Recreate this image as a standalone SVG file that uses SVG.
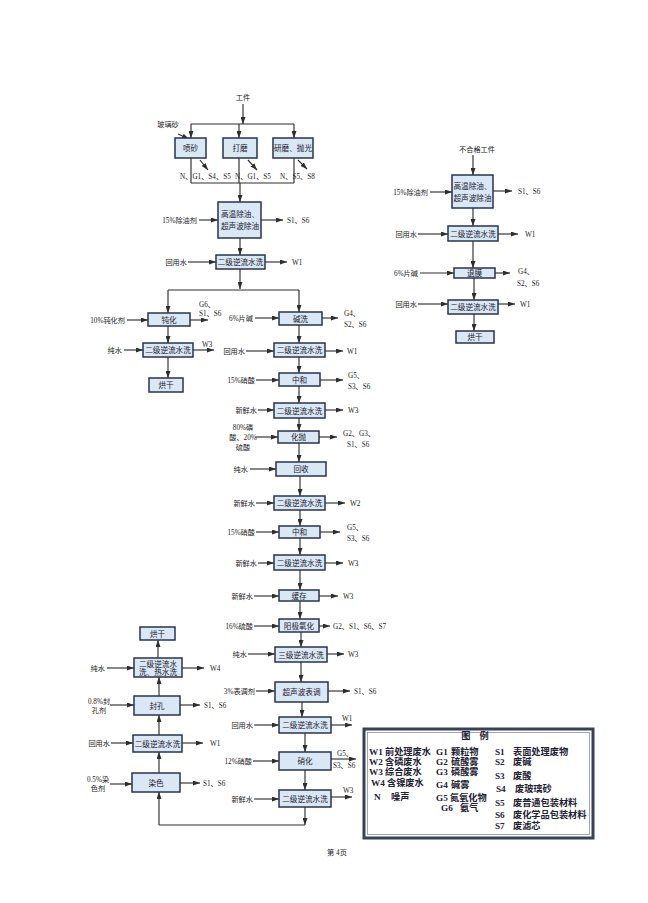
<svg xmlns="http://www.w3.org/2000/svg" width="648" height="903" viewBox="0 0 648 903">
<style>
.bg{fill:#ffffff}
.box{fill:#dae7f4;stroke:#27344c;stroke-width:1.5}
.bt{font-family:"Liberation Serif","Noto Sans CJK SC",serif;font-size:7.6px;fill:#1a2030;text-anchor:middle}
.t{font-family:"Liberation Serif","Noto Sans CJK SC",serif;font-size:7.2px;fill:#222}
.e{text-anchor:end}
.m{text-anchor:middle}
.ln{stroke:#2e2e2e;stroke-width:1.15;fill:none}
.ar{stroke:#2e2e2e;stroke-width:1.15;fill:none;marker-end:url(#ah)}
.lg{font-family:"Liberation Serif","Noto Sans CJK SC",serif;font-size:9.2px;font-weight:bold;fill:#1e2233}
</style>
<defs>
<marker id="ah" viewBox="0 0 7 5" refX="7" refY="2.5" markerWidth="7" markerHeight="5" markerUnits="userSpaceOnUse" orient="auto"><path d="M0,0 L7,2.5 L0,5 z" fill="#2e2e2e"/></marker>
</defs>
<rect class="bg" x="0" y="0" width="648" height="903"/>

<g id="connectors">
<path class="ar" d="M243,104 V124"/>
<path class="ln" d="M191,124 H294"/>
<path class="ar" d="M191,124 V138"/>
<path class="ar" d="M239,124 V138"/>
<path class="ar" d="M294,124 V138"/>
<path class="ar" d="M178,134 L189,139"/>
<path class="ar" d="M200,160 L208,170"/>
<path class="ar" d="M248,160 L257,170"/>
<path class="ar" d="M298,160 L307,169"/>
<path class="ln" d="M191,158 V183 M239,158 V183 M294,158 V183 M191,183 H294"/>
<path class="ar" d="M240,183 V202"/>
<path class="ar" d="M199,220 H218"/>
<path class="ar" d="M261,220 H283"/>
<path class="ar" d="M240,238 V255"/>
<path class="ar" d="M188,262 H216"/>
<path class="ar" d="M265,262 H287"/>
<path class="ar" d="M240,269 V289"/>
<path class="ln" d="M168,290 H299"/>
<path class="ar" d="M168,290 V313"/>
<path class="ar" d="M299,290 V312"/>
<path class="ar" d="M127,320 H148"/>
<path class="ar" d="M190,320 H208"/>
<path class="ar" d="M168,326 V343"/>
<path class="ar" d="M124,350 H143"/>
<path class="ar" d="M193,350 H214"/>
<path class="ar" d="M168,357 V378"/>
<path class="ar" d="M255,318 H279"/>
<path class="ar" d="M322,318 H338"/>
<path class="ar" d="M299,325 V343"/>
<path class="ar" d="M246,351 H274"/>
<path class="ar" d="M325,351 H343"/>
<path class="ar" d="M299,357 V373"/>
<path class="ar" d="M256,380 H279"/>
<path class="ar" d="M320,380 H343"/>
<path class="ar" d="M299,386 V403"/>
<path class="ar" d="M258,410 H274"/>
<path class="ar" d="M325,410 H343"/>
<path class="ar" d="M299,418 V431"/>
<path class="ar" d="M255,437 H278"/>
<path class="ar" d="M319,437 H337"/>
<path class="ar" d="M299,443 V462"/>
<path class="ar" d="M250,469 H276"/>
<path class="ar" d="M300,476 V496"/>
<path class="ar" d="M256,503 H274"/>
<path class="ar" d="M325,503 H345"/>
<path class="ar" d="M300,510 V526"/>
<path class="ar" d="M256,532 H279"/>
<path class="ar" d="M320,532 H340"/>
<path class="ar" d="M300,538 V555"/>
<path class="ar" d="M258,563 H274"/>
<path class="ar" d="M325,563 H343"/>
<path class="ar" d="M300,570 V590"/>
<path class="ar" d="M254,596 H279"/>
<path class="ar" d="M319,596 H338"/>
<path class="ar" d="M300,601 V619"/>
<path class="ar" d="M254,626 H279"/>
<path class="ar" d="M319,626 H330"/>
<path class="ar" d="M301,632 V647"/>
<path class="ar" d="M248,654 H275"/>
<path class="ar" d="M327,654 H344"/>
<path class="ar" d="M301,662 V682"/>
<path class="ar" d="M256,691 H275"/>
<path class="ar" d="M328,691 H350"/>
<path class="ar" d="M302,702 V717"/>
<path class="ar" d="M254,725 H279"/>
<path class="ar" d="M331,725 H352"/>
<path class="ar" d="M305,733 V752"/>
<path class="ar" d="M253,761 H279"/>
<path class="ar" d="M331,759 H356"/>
<path class="ar" d="M305,770 V790"/>
<path class="ar" d="M254,799 H279"/>
<path class="ar" d="M331,797 H352"/>
<path class="ar" d="M305,807 V825"/>
<path class="ln" d="M305,825 H159"/>
<path class="ar" d="M159,825 V792"/>
<path class="ar" d="M110,784 H132"/>
<path class="ar" d="M180,783 H200"/>
<path class="ar" d="M159,773 V752"/>
<path class="ar" d="M111,743 H133"/>
<path class="ar" d="M182,743 H203"/>
<path class="ar" d="M159,735 V715"/>
<path class="ar" d="M110,705 H134"/>
<path class="ar" d="M180,705 H200"/>
<path class="ar" d="M159,696 V677"/>
<path class="ar" d="M107,668 H134"/>
<path class="ar" d="M182,668 H204"/>
<path class="ar" d="M158,658 V640"/>
<path class="ar" d="M473,155 V175"/>
<path class="ar" d="M430,192 H452"/>
<path class="ar" d="M493,191 H512"/>
<path class="ar" d="M473,208 V226"/>
<path class="ar" d="M418,234 H448"/>
<path class="ar" d="M498,234 H518"/>
<path class="ar" d="M473,241 V268"/>
<path class="ar" d="M420,273 H454"/>
<path class="ar" d="M495,273 H510"/>
<path class="ar" d="M474,278 V300"/>
<path class="ar" d="M418,304 H448"/>
<path class="ar" d="M498,304 H515"/>
<path class="ar" d="M474,314 V331"/>
</g>

<g id="labels">
<text class="t m" x="243" y="100">工件</text>
<text class="t m" x="168" y="127">玻璃砂</text>
<text class="t" x="180" y="179">N、G1、S4、S5</text>
<text class="t" x="235" y="179">N、G1、S5</text>
<text class="t" x="280" y="179">N、S5、S8</text>
<text class="t e" x="197" y="223">15%除油剂</text>
<text class="t" x="287" y="223">S1、S6</text>
<text class="t e" x="187" y="265">回用水</text>
<text class="t" x="292" y="265">W1</text>
<text class="t e" x="125" y="323">10%钝化剂</text>
<text class="t" x="199" y="307">G6、</text>
<text class="t" x="199" y="316">S1、S6</text>
<text class="t e" x="122" y="353">纯水</text>
<text class="t" x="202" y="347">W3</text>
<text class="t e" x="253" y="321">6%片碱</text>
<text class="t" x="344" y="316">G4、</text>
<text class="t" x="344" y="327">S2、S6</text>
<text class="t e" x="245" y="354">回用水</text>
<text class="t" x="347" y="354">W1</text>
<text class="t e" x="255" y="383">15%硝酸</text>
<text class="t" x="348" y="378">G5、</text>
<text class="t" x="348" y="389">S3、S6</text>
<text class="t e" x="257" y="413">新鲜水</text>
<text class="t" x="348" y="413">W3</text>
<text class="t m" x="243" y="430">80%磷</text>
<text class="t m" x="243" y="440">酸、20%</text>
<text class="t m" x="243" y="450">硫酸</text>
<text class="t" x="343" y="436">G2、G3、</text>
<text class="t" x="347" y="447">S1、S6</text>
<text class="t e" x="248" y="472">纯水</text>
<text class="t e" x="255" y="506">新鲜水</text>
<text class="t" x="350" y="506">W2</text>
<text class="t e" x="255" y="535">15%硝酸</text>
<text class="t" x="347" y="530">G5、</text>
<text class="t" x="347" y="541">S3、S6</text>
<text class="t e" x="257" y="566">新鲜水</text>
<text class="t" x="348" y="566">W3</text>
<text class="t e" x="253" y="599">新鲜水</text>
<text class="t" x="343" y="599">W3</text>
<text class="t e" x="253" y="629">16%硫酸</text>
<text class="t" x="333" y="629">G2、S1、S6、S7</text>
<text class="t e" x="247" y="657">纯水</text>
<text class="t" x="348" y="657">W3</text>
<text class="t e" x="255" y="694">3%表调剂</text>
<text class="t" x="354" y="694">S1、S6</text>
<text class="t e" x="253" y="728">回用水</text>
<text class="t" x="342" y="721">W1</text>
<text class="t e" x="252" y="764">12%硝酸</text>
<text class="t" x="337" y="756">G5、</text>
<text class="t" x="333" y="768">S3、S6</text>
<text class="t e" x="253" y="802">新鲜水</text>
<text class="t" x="343" y="793">W3</text>
<text class="t m" x="98" y="782">0.5%染</text>
<text class="t m" x="98" y="791">色剂</text>
<text class="t" x="203" y="786">S1、S6</text>
<text class="t e" x="110" y="746">回用水</text>
<text class="t" x="210" y="746">W1</text>
<text class="t m" x="99" y="704">0.8%封</text>
<text class="t m" x="99" y="713">孔剂</text>
<text class="t" x="204" y="708">S1、S6</text>
<text class="t e" x="105" y="671">纯水</text>
<text class="t" x="210" y="671">W4</text>
<text class="t m" x="477" y="152">不合格工件</text>
<text class="t e" x="428" y="195">15%除油剂</text>
<text class="t" x="518" y="194">S1、S6</text>
<text class="t e" x="417" y="237">回用水</text>
<text class="t" x="525" y="237">W1</text>
<text class="t e" x="418" y="276">6%片碱</text>
<text class="t" x="518" y="274">G4、</text>
<text class="t" x="517" y="286">S2、S6</text>
<text class="t e" x="417" y="307">回用水</text>
<text class="t" x="520" y="307">W1</text>
<text class="t m" x="337" y="855">第 4页</text>
</g>

<g id="n-pensha"><rect class="box" x="175" y="138" width="31" height="20"/><text class="bt" x="190.5" y="151">喷砂</text></g>
<g id="n-damo"><rect class="box" x="223" y="138" width="34" height="20"/><text class="bt" x="240" y="151">打磨</text></g>
<g id="n-yanmo"><rect class="box" x="273" y="138" width="40" height="20"/><text class="bt" x="293" y="151">研磨、抛光</text></g>
<g id="n-chuyou"><rect class="box" x="218" y="202" width="43" height="36"/><text class="bt" x="240" y="217">高温除油、</text><text class="bt" x="240" y="229">超声波除油</text></g>
<g id="n-wash1"><rect class="box" x="216" y="255" width="49" height="14"/><text class="bt" x="240.5" y="265">二级逆流水洗</text></g>
<g id="n-dunhua"><rect class="box" x="148" y="313" width="42" height="13"/><text class="bt" x="169" y="322.5">钝化</text></g>
<g id="n-wash-l1"><rect class="box" x="143" y="343" width="50" height="14"/><text class="bt" x="168" y="353">二级逆流水洗</text></g>
<g id="n-honggan-l"><rect class="box" x="149" y="378" width="34" height="14"/><text class="bt" x="166" y="388">烘干</text></g>
<g id="n-jianxi"><rect class="box" x="279" y="312" width="43" height="13"/><text class="bt" x="300.5" y="321.5">碱洗</text></g>
<g id="n-wash2"><rect class="box" x="274" y="343" width="51" height="14"/><text class="bt" x="299.5" y="353">二级逆流水洗</text></g>
<g id="n-zhonghe1"><rect class="box" x="279" y="373" width="41" height="13"/><text class="bt" x="299.5" y="382.5">中和</text></g>
<g id="n-wash3"><rect class="box" x="274" y="403" width="51" height="15"/><text class="bt" x="299.5" y="413.5">二级逆流水洗</text></g>
<g id="n-huapao"><rect class="box" x="278" y="431" width="41" height="12"/><text class="bt" x="298.5" y="440">化抛</text></g>
<g id="n-huishou"><rect class="box" x="276" y="462" width="50" height="14"/><text class="bt" x="301" y="472">回收</text></g>
<g id="n-wash4"><rect class="box" x="274" y="496" width="51" height="14"/><text class="bt" x="299.5" y="506">二级逆流水洗</text></g>
<g id="n-zhonghe2"><rect class="box" x="279" y="526" width="41" height="12"/><text class="bt" x="299.5" y="535">中和</text></g>
<g id="n-wash5"><rect class="box" x="274" y="555" width="51" height="15"/><text class="bt" x="299.5" y="565.5">二级逆流水洗</text></g>
<g id="n-huancun"><rect class="box" x="279" y="590" width="40" height="11"/><text class="bt" x="299" y="598.5">缓存</text></g>
<g id="n-yangji"><rect class="box" x="279" y="619" width="40" height="13"/><text class="bt" x="299" y="628.5">阳极氧化</text></g>
<g id="n-wash6"><rect class="box" x="275" y="647" width="52" height="15"/><text class="bt" x="301" y="657.5">三级逆流水洗</text></g>
<g id="n-biaotiao"><rect class="box" x="275" y="682" width="53" height="20"/><text class="bt" x="301.5" y="694.5">超声波表调</text></g>
<g id="n-wash7"><rect class="box" x="279" y="717" width="52" height="16"/><text class="bt" x="305" y="728">二级逆流水洗</text></g>
<g id="n-xiaohua"><rect class="box" x="279" y="752" width="52" height="18"/><text class="bt" x="305" y="764">硝化</text></g>
<g id="n-wash8"><rect class="box" x="279" y="790" width="52" height="17"/><text class="bt" x="305" y="801.5">二级逆流水洗</text></g>
<g id="n-ranse"><rect class="box" x="132" y="773" width="48" height="19"/><text class="bt" x="156" y="785.5">染色</text></g>
<g id="n-wash-b1"><rect class="box" x="133" y="735" width="49" height="17"/><text class="bt" x="157.5" y="746.5">二级逆流水洗</text></g>
<g id="n-fengkong"><rect class="box" x="134" y="696" width="46" height="19"/><text class="bt" x="157" y="708.5">封孔</text></g>
<g id="n-wash-b2"><rect class="box" x="134" y="658" width="48" height="19"/><text class="bt" x="158" y="666.5">二级逆流水</text><text class="bt" x="158" y="675">洗、热水洗</text></g>
<g id="n-honggan-b"><rect class="box" x="140" y="627" width="35" height="13"/><text class="bt" x="157.5" y="636.5">烘干</text></g>
<g id="n-r-chuyou"><rect class="box" x="452" y="175" width="41" height="33"/><text class="bt" x="472.5" y="189">高温除油、</text><text class="bt" x="472.5" y="201">超声波除油</text></g>
<g id="n-r-wash1"><rect class="box" x="448" y="226" width="50" height="15"/><text class="bt" x="473" y="236.5">二级逆流水洗</text></g>
<g id="n-r-tuimo"><rect class="box" x="454" y="268" width="41" height="10"/><text class="bt" x="474.5" y="276">退膜</text></g>
<g id="n-r-wash2"><rect class="box" x="448" y="300" width="50" height="14"/><text class="bt" x="473" y="310">二级逆流水洗</text></g>
<g id="n-r-honggan"><rect class="box" x="456" y="331" width="38" height="12"/><text class="bt" x="475" y="340">烘干</text></g>

<g id="legend">
<rect x="364" y="729" width="229" height="109" fill="#ffffff" stroke="#3a4058" stroke-width="3"/>
<rect x="367.5" y="732.5" width="222" height="102" fill="none" stroke="#8a90a8" stroke-width="0.8"/>
<text class="lg" x="475" y="739" text-anchor="middle">图　例</text>
<text class="lg" x="369" y="755">W1</text><text class="lg" x="385" y="755">前处理废水</text>
<text class="lg" x="369" y="765">W2</text><text class="lg" x="385" y="765">含磷废水</text>
<text class="lg" x="369" y="775">W3</text><text class="lg" x="385" y="775">综合废水</text>
<text class="lg" x="371" y="786">W4</text><text class="lg" x="387" y="786">含镍废水</text>
<text class="lg" x="374" y="800">N</text><text class="lg" x="391" y="800">噪声</text>
<text class="lg" x="436" y="755">G1</text><text class="lg" x="451" y="755">颗粒物</text>
<text class="lg" x="436" y="765">G2</text><text class="lg" x="451" y="765">硫酸雾</text>
<text class="lg" x="436" y="775">G3</text><text class="lg" x="451" y="775">磷酸雾</text>
<text class="lg" x="436" y="788">G4</text><text class="lg" x="451" y="788">碱雾</text>
<text class="lg" x="436" y="801">G5</text><text class="lg" x="450" y="801">氮氧化物</text>
<text class="lg" x="441" y="811">G6</text><text class="lg" x="460" y="811">氨气</text>
<text class="lg" x="495" y="755">S1</text><text class="lg" x="513" y="755">表面处理废物</text>
<text class="lg" x="495" y="765">S2</text><text class="lg" x="513" y="765">废碱</text>
<text class="lg" x="495" y="779">S3</text><text class="lg" x="513" y="779">废酸</text>
<text class="lg" x="496" y="792">S4</text><text class="lg" x="515" y="792">废玻璃砂</text>
<text class="lg" x="495" y="806">S5</text><text class="lg" x="513" y="806">废普通包装材料</text>
<text class="lg" x="495" y="818">S6</text><text class="lg" x="513" y="818">废化学品包装材料</text>
<text class="lg" x="495" y="829">S7</text><text class="lg" x="513" y="829">废滤芯</text>
</g>
</svg>
